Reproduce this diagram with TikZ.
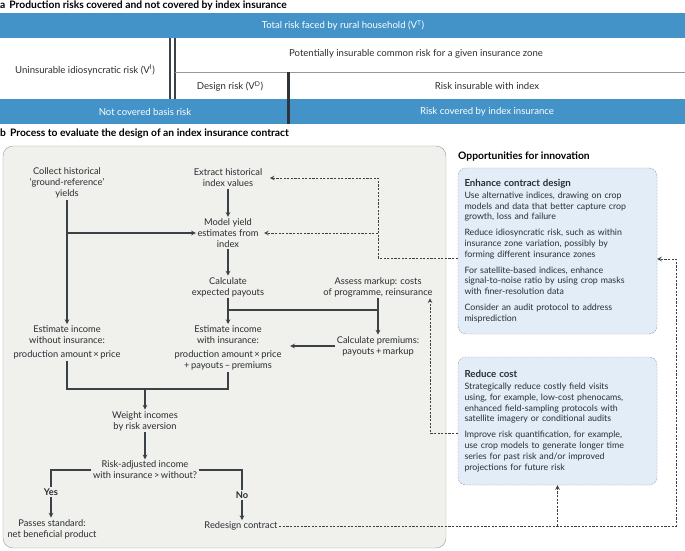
\documentclass[tikz,border=0pt]{standalone}
\usepackage{fontspec}
\setmainfont{Lato}
\definecolor{barblue}{RGB}{67,147,200}
\definecolor{panelgrey}{RGB}{240,240,236}
\definecolor{boxblue}{RGB}{227,237,248}
\definecolor{ink}{RGB}{58,66,72}
\definecolor{edge}{RGB}{150,154,158}

\newcommand{\boxhead}[1]{{\bfseries\fontsize{9.7}{11.5}\selectfont #1}}

\tikzset{
    txt/.style={align=center, text=ink!70!black, inner sep=1.5pt,
        font=\fontsize{9.3}{11}\selectfont},
    layer/.style={txt, font=\fontsize{9.6}{11}\selectfont},
    head/.style={anchor=west, inner sep=0pt, text=black,
        font=\bfseries\fontsize{10.3}{12}\selectfont},
    line/.style={ink, line width=1.1pt},
    arr/.style={line, ->, >=stealth},
    dots/.style={ink, line width=1pt, dash pattern=on 2.2pt off 1.4pt},
    darr/.style={dots, ->, >=stealth},
    opbox/.style={draw=edge, dash pattern=on 2pt off 1.2pt, fill=boxblue,
        rounded corners=8pt, align=left, text=ink!70!black,
        text width=186pt, minimum width=199pt, inner xsep=6.5pt,
        font=\fontsize{8.8}{10.8}\selectfont},
}

\begin{document}
\begin{tikzpicture}[x=1pt, y=-1pt]
    \useasboundingbox (0,0) rectangle (685,551);

    % a: layers of risk
    \node[head] (titleA) at (0,6) {a\hspace{4pt}Production risks covered and not covered by index insurance};
    \fill[barblue] (0,13) rectangle (685,38);
    \fill[barblue] (0,99) rectangle (685,124);
    \draw[ink, line width=1.1pt] (170,38) -- (170,99);
    \draw[ink, line width=1.1pt] (175,38) -- (175,99);
    \draw[edge, line width=0.6pt] (175,72) -- (685,72);
    \draw[ink!80!black, line width=3pt] (288,72) -- (288,124);

    \node[layer, text=white] (total) at (343,25.5) {Total risk faced by rural household (V\textsuperscript{T})};
    \node[layer] (idio) at (85,70) {Uninsurable idiosyncratic risk (V\textsuperscript{I})};
    \node[layer] (common) at (416,54) {Potentially insurable common risk for a given insurance zone};
    \node[layer] (design) at (230,86.5) {Design risk (V\textsuperscript{D})};
    \node[layer] (insurable) at (487,86.5) {Risk insurable with index};
    \node[layer, text=white] (basis) at (145,112) {Not covered basis risk};
    \node[layer, text=white] (covered) at (487,112) {Risk covered by index insurance};

    % b: evaluation process
    \node[head] (titleB) at (0,134) {b\hspace{4pt}Process to evaluate the design of an index insurance contract};
    \draw[edge, fill=panelgrey, rounded corners=10pt] (3,146) rectangle (446,548);

    \node[txt] (collect) at (67,183) {Collect historical\\`ground-reference'\\yields};
    \node[txt] (extract) at (228,178) {Extract historical\\index values};
    \node[txt] (model) at (228,233) {Model yield\\estimates from\\index};
    \node[txt] (payouts) at (228,287) {Calculate\\expected payouts};
    \node[txt] (markup) at (378,287) {Assess markup: costs\\of programme, reinsurance};
    \node[txt] (premiums) at (378,346) {Calculate premiums:\\payouts\,+\,markup};
    \node[txt, anchor=north] (without) at (67,324) {Estimate income\\without insurance:\\[3pt]production amount\,×\,price};
    \node[txt, anchor=north] (with) at (228,324) {Estimate income\\with insurance:\\[3pt]production amount\,×\,price\\+\,payouts\,–\,premiums};
    \coordinate (join) at (228,310);
    \coordinate (merge) at (145,389);
    \node[txt] (weight) at (145,421) {Weight incomes\\by risk aversion};
    \node[txt] (riskadj) at (145,470) {Risk-adjusted income\\with insurance\,>\,without?};
    \node[txt, font=\bfseries\fontsize{9.3}{11}\selectfont] (yes) at (51,492) {Yes};
    \node[txt, font=\bfseries\fontsize{9.3}{11}\selectfont] (no) at (242,495) {No};
    \node[txt] (passes) at (52,529) {Passes standard:\\net beneficial product};
    \node[txt] (redesign) at (241,526) {Redesign contract};

    \foreach \from/\to in {extract/model, model/payouts, collect/without, payouts/with, markup/premiums, weight/riskadj}
        \draw[arr] (\from) -- (\to);
    \draw[arr] (collect.south |- model.west) -- (model.west);
    \draw[line] (join) -- (join -| markup.south);
    \draw[arr, shorten >=7pt] (premiums.west) -- (premiums.west -| with.east);
    \draw[line] (without.south) |- (merge) -| (with.south);
    \draw[arr] (merge) -- (weight);
    \draw[line] (riskadj.west) -| (yes.north);
    \draw[line] (riskadj.east) -| (no.north);
    \draw[arr] (yes) -- (yes |- passes.north);
    \draw[arr] (no) -- (no |- redesign.north);

    % opportunities
    \node[head] (opps) at (458,157) {Opportunities for innovation};
    \node[opbox, minimum height=166pt] (enhance) at (557.5,251) {%
        \boxhead{Enhance contract design}\\[1pt]
        Use alternative indices, drawing on crop\\models and data that better capture crop\\growth, loss and failure\\[5pt]
        Reduce idiosyncratic risk, such as within\\insurance zone variation, possibly by\\forming different insurance zones\\[5pt]
        For satellite-based indices, enhance\\signal-to-noise ratio by using crop masks\\with finer-resolution data\\[5pt]
        Consider an audit protocol to address\\misprediction};
    \node[opbox, minimum height=128pt] (reduce) at (557.5,421) {%
        \boxhead{Reduce cost}\\[1pt]
        Strategically reduce costly field visits\\using, for example, low-cost phenocams,\\enhanced field-sampling protocols with\\satellite imagery or conditional audits\\[5pt]
        Improve risk quantification, for example,\\use crop models to generate longer time\\series for past risk and/or improved\\projections for future risk};

    % feedback (dashed)
    \coordinate (upper) at (378,258);
    \coordinate (corner) at (676,526);
    \coordinate (back) at (676,259);
    \coordinate (side) at (430,433);
    \draw[darr, shorten >=6pt] (enhance.west |- upper) -- (upper) |- (extract.east);
    \draw[darr, shorten >=4pt] (upper |- model.east) -- (model.east);
    \draw[darr] (redesign.east) -- (corner) -- (back) -- (back -| enhance.east);
    \draw[darr] (redesign.east -| reduce.south) -- (reduce.south);
    \draw[darr] (reduce.west |- side) -- (side) -- (side |- markup.south);
\end{tikzpicture}
\end{document}
